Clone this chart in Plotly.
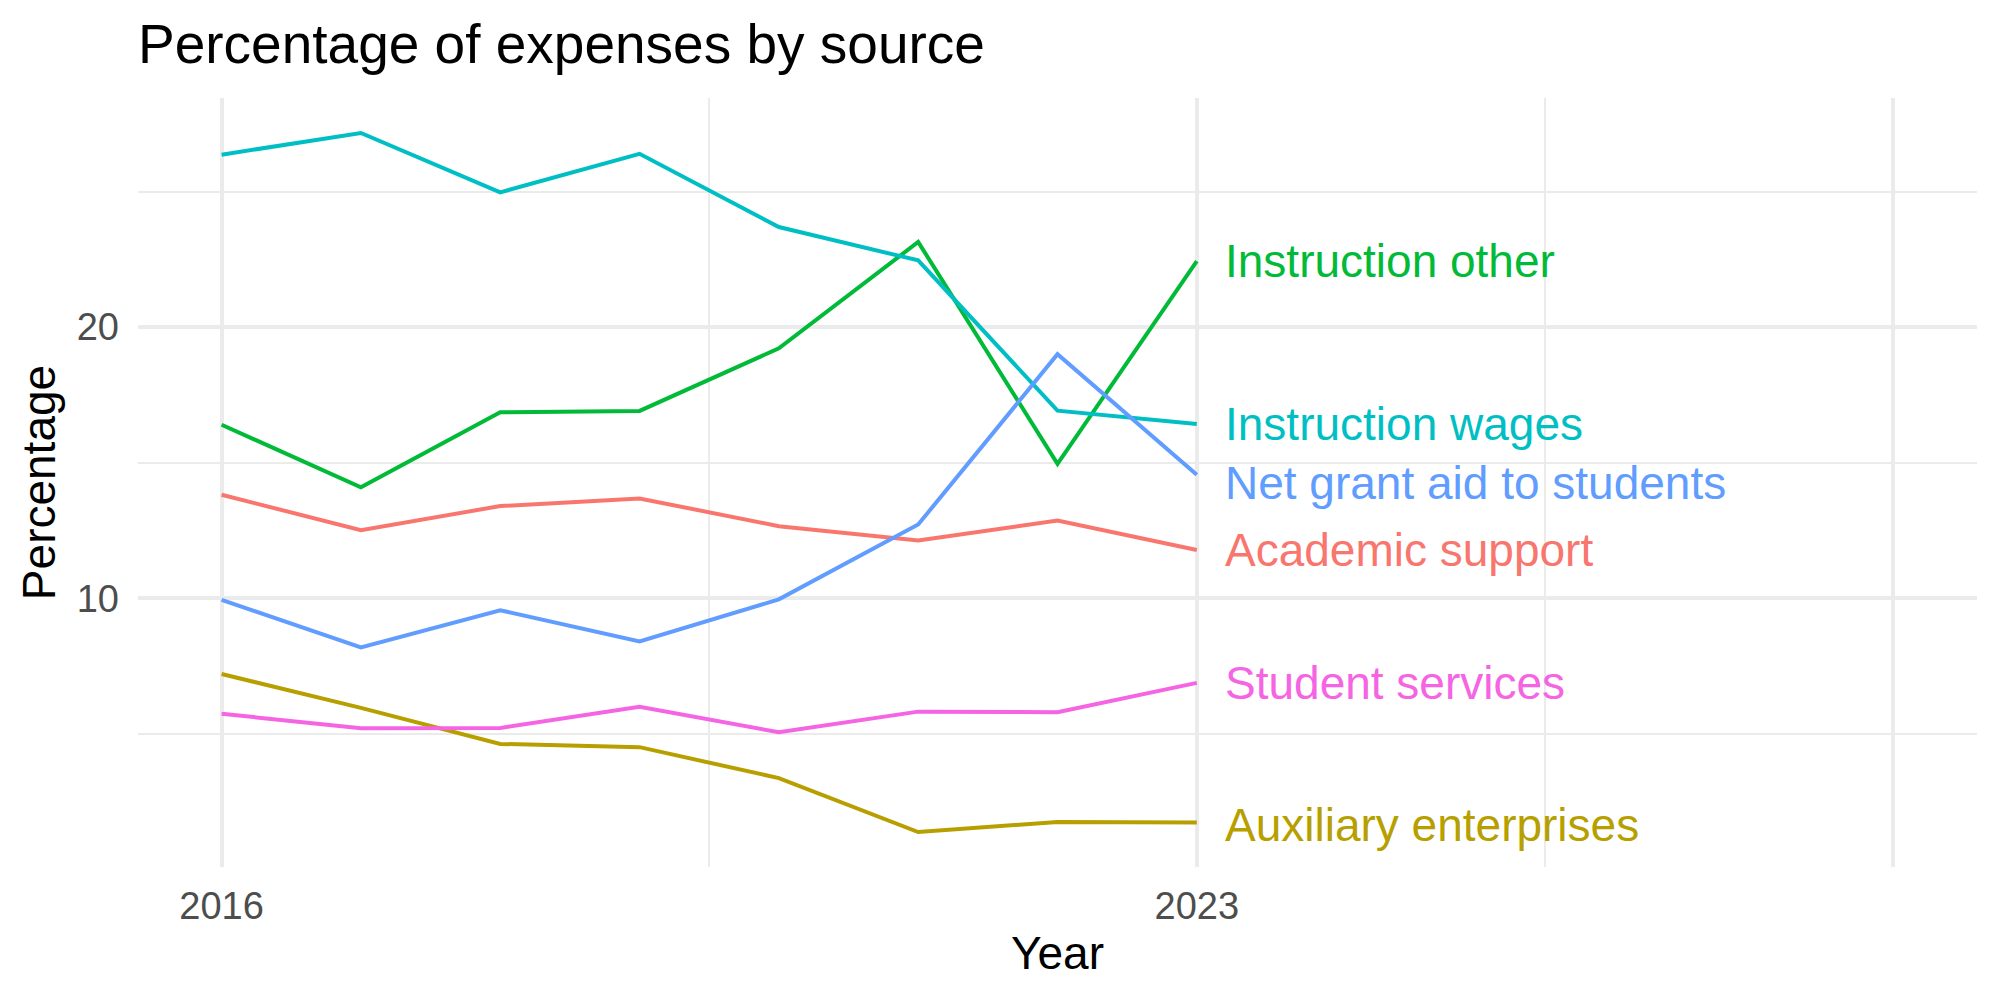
import plotly.graph_objects as go

years = [2016, 2017, 2018, 2019, 2020, 2021, 2022, 2023]

series_names = [
    "Academic support",
    "Auxiliary enterprises",
    "Instruction other",
    "Instruction wages",
    "Net grant aid to students",
    "Student services",
]

academic_support = [13.82, 12.51, 13.40, 13.68, 12.66, 12.13, 12.87, 11.78]
auxiliary_enterprises = [7.21, 5.96, 4.63, 4.51, 3.37, 1.38, 1.75, 1.73]
instruction_other = [16.40, 14.09, 16.86, 16.91, 19.22, 23.14, 14.96, 22.43]
instruction_wages = [26.36, 27.16, 24.97, 26.39, 23.69, 22.46, 16.92, 16.43]
net_grant_aid = [9.94, 8.19, 9.56, 8.41, 9.96, 12.72, 19.00, 14.56]
student_services = [5.74, 5.21, 5.22, 6.00, 5.06, 5.82, 5.80, 6.88]

x_breaks = [2016, 2023, 2028]
x_break_labels = ["2016", "2023", ""]
x_minor = [2019.5, 2025.5]
y_breaks = [10, 20]
y_break_labels = ["10", "20"]
y_minor = [5, 15, 25]

values = [academic_support, auxiliary_enterprises, instruction_other,
          instruction_wages, net_grant_aid, student_services]
colors = ["#F8766D", "#B79F00", "#00BA38", "#00BFC4", "#619CFF", "#F564E3"]
label_nudge = {"Net grant aid to students": -0.3, "Auxiliary enterprises": -0.1}

FONT = "Liberation Sans, Arial, Helvetica, sans-serif"

fig = go.Figure()
for name, vals, col in zip(series_names, values, colors):
    fig.add_trace(go.Scatter(x=years, y=vals, mode="lines", name=name,
                             line=dict(color=col, width=4), showlegend=False))
    fig.add_annotation(x=years[-1], y=vals[-1] + label_nudge.get(name, 0.0),
                       text=name, showarrow=False, xanchor="left", yanchor="middle",
                       xshift=26, font=dict(family=FONT, size=46, color=col))

# data extent for scale expansion (ggplot-like 5%)
x_lo, x_hi = 2016, 2028
all_vals = [v for s in values for v in s]
y_lo, y_hi = min(all_vals), max(all_vals)
xpad = (x_hi - x_lo) * 0.05
ypad = (y_hi - y_lo) * 0.05

fig.update_layout(
    width=2000, height=1000,
    paper_bgcolor="white", plot_bgcolor="white",
    margin=dict(l=138, r=23, t=98, b=133),
    font=dict(family=FONT, color="black"),
    title=dict(text="Percentage of expenses by source", x=138 / 2000, xanchor="left",
               xref="container", y=1 - 44 / 1000, yanchor="middle", yref="container",
               font=dict(size=55, color="black", family=FONT)),
    xaxis=dict(range=[x_lo - xpad, x_hi + xpad], tickmode="array", tickvals=x_breaks,
               ticktext=x_break_labels, showgrid=True, gridcolor="#EBEBEB", gridwidth=4,
               zeroline=False, showline=False, ticks="", ticklabelstandoff=13,
               tickfont=dict(size=38, color="#4D4D4D", family=FONT),
               minor=dict(tickmode="array", tickvals=x_minor, showgrid=True,
                          gridcolor="#EBEBEB", gridwidth=2, ticks=""),
               title=dict(text="Year", font=dict(size=46, color="black", family=FONT),
                          standoff=10)),
    yaxis=dict(range=[y_lo - ypad, y_hi + ypad], tickmode="array", tickvals=y_breaks,
               ticktext=y_break_labels, showgrid=True, gridcolor="#EBEBEB", gridwidth=4,
               zeroline=False, showline=False, ticks="", ticklabelstandoff=18,
               tickfont=dict(size=38, color="#4D4D4D", family=FONT),
               minor=dict(tickmode="array", tickvals=y_minor, showgrid=True,
                          gridcolor="#EBEBEB", gridwidth=2, ticks=""),
               title=dict(text="Percentage", font=dict(size=46, color="black", family=FONT),
                          standoff=6)),
)

fig.write_html("out.html")
